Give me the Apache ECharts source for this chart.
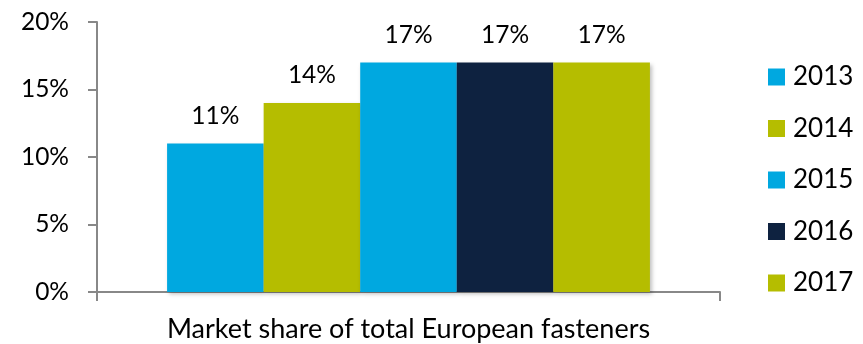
<!DOCTYPE html>
<html>
<head>
<meta charset="utf-8">
<script src="https://cdn.jsdelivr.net/npm/echarts@6/dist/echarts.min.js"></script>
<style>html,body{margin:0;padding:0;background:#fff}#c{width:863px;height:344px}</style>
</head>
<body>
<div id="c"></div>
<script>
const categories = ['Market share of total European fasteners'];
const years = ['2013', '2014', '2015', '2016', '2017'];
const values = [11, 14, 17, 17, 17];
const colors = ['#00A8E0', '#B5BD00', '#00A8E0', '#0E2240', '#B5BD00'];
const yTicks = [0, 5, 10, 15, 20];

const font = 'Lato, "Open Sans", sans-serif';
const chart = echarts.init(document.getElementById('c'), null, {renderer: 'canvas'});
chart.setOption({
  animation: false,
  grid: {left: 97, top: 22, right: 143, bottom: 52, containLabel: false},
  legend: {
    orient: 'vertical', left: 768, top: 64, padding: 0,
    itemWidth: 17, itemHeight: 17, itemGap: 25.5,
    icon: 'rect',
    textStyle: {fontFamily: font, fontSize: 26, color: '#000', lineHeight: 21, padding: [0,0,0,3]},
    data: years
  },
  xAxis: {
    type: 'category', data: categories,
    axisLine: {lineStyle: {color: '#888', width: 2}},
    axisTick: {show: true, length: 9, lineStyle: {color: '#888', width: 2}},
    axisLabel: {fontFamily: font, fontSize: 27, color: '#000', margin: 24}
  },
  yAxis: {
    type: 'value', min: yTicks[0], max: yTicks[yTicks.length-1], interval: 5,
    splitLine: {show: false},
    axisLine: {show: true, lineStyle: {color: '#888', width: 2}},
    axisTick: {show: true, length: 9, lineStyle: {color: '#888', width: 2}},
    axisLabel: {fontFamily: font, fontSize: 24.5, color: '#000', margin: 28, formatter: '{value}%'}
  },
  series: years.map((y, i) => ({
    name: y, type: 'bar', data: [values[i]],
    barGap: 0, barCategoryGap: '22.5%',
    itemStyle: {color: colors[i], shadowColor: 'rgba(0,0,0,0.25)', shadowBlur: 4, shadowOffsetX: 2, shadowOffsetY: 2},
    label: {show: true, position: 'top', distance: 15, formatter: '{c}%', fontFamily: font, fontSize: 24.5, color: '#000'}
  }))
});
</script>
</body>
</html>
